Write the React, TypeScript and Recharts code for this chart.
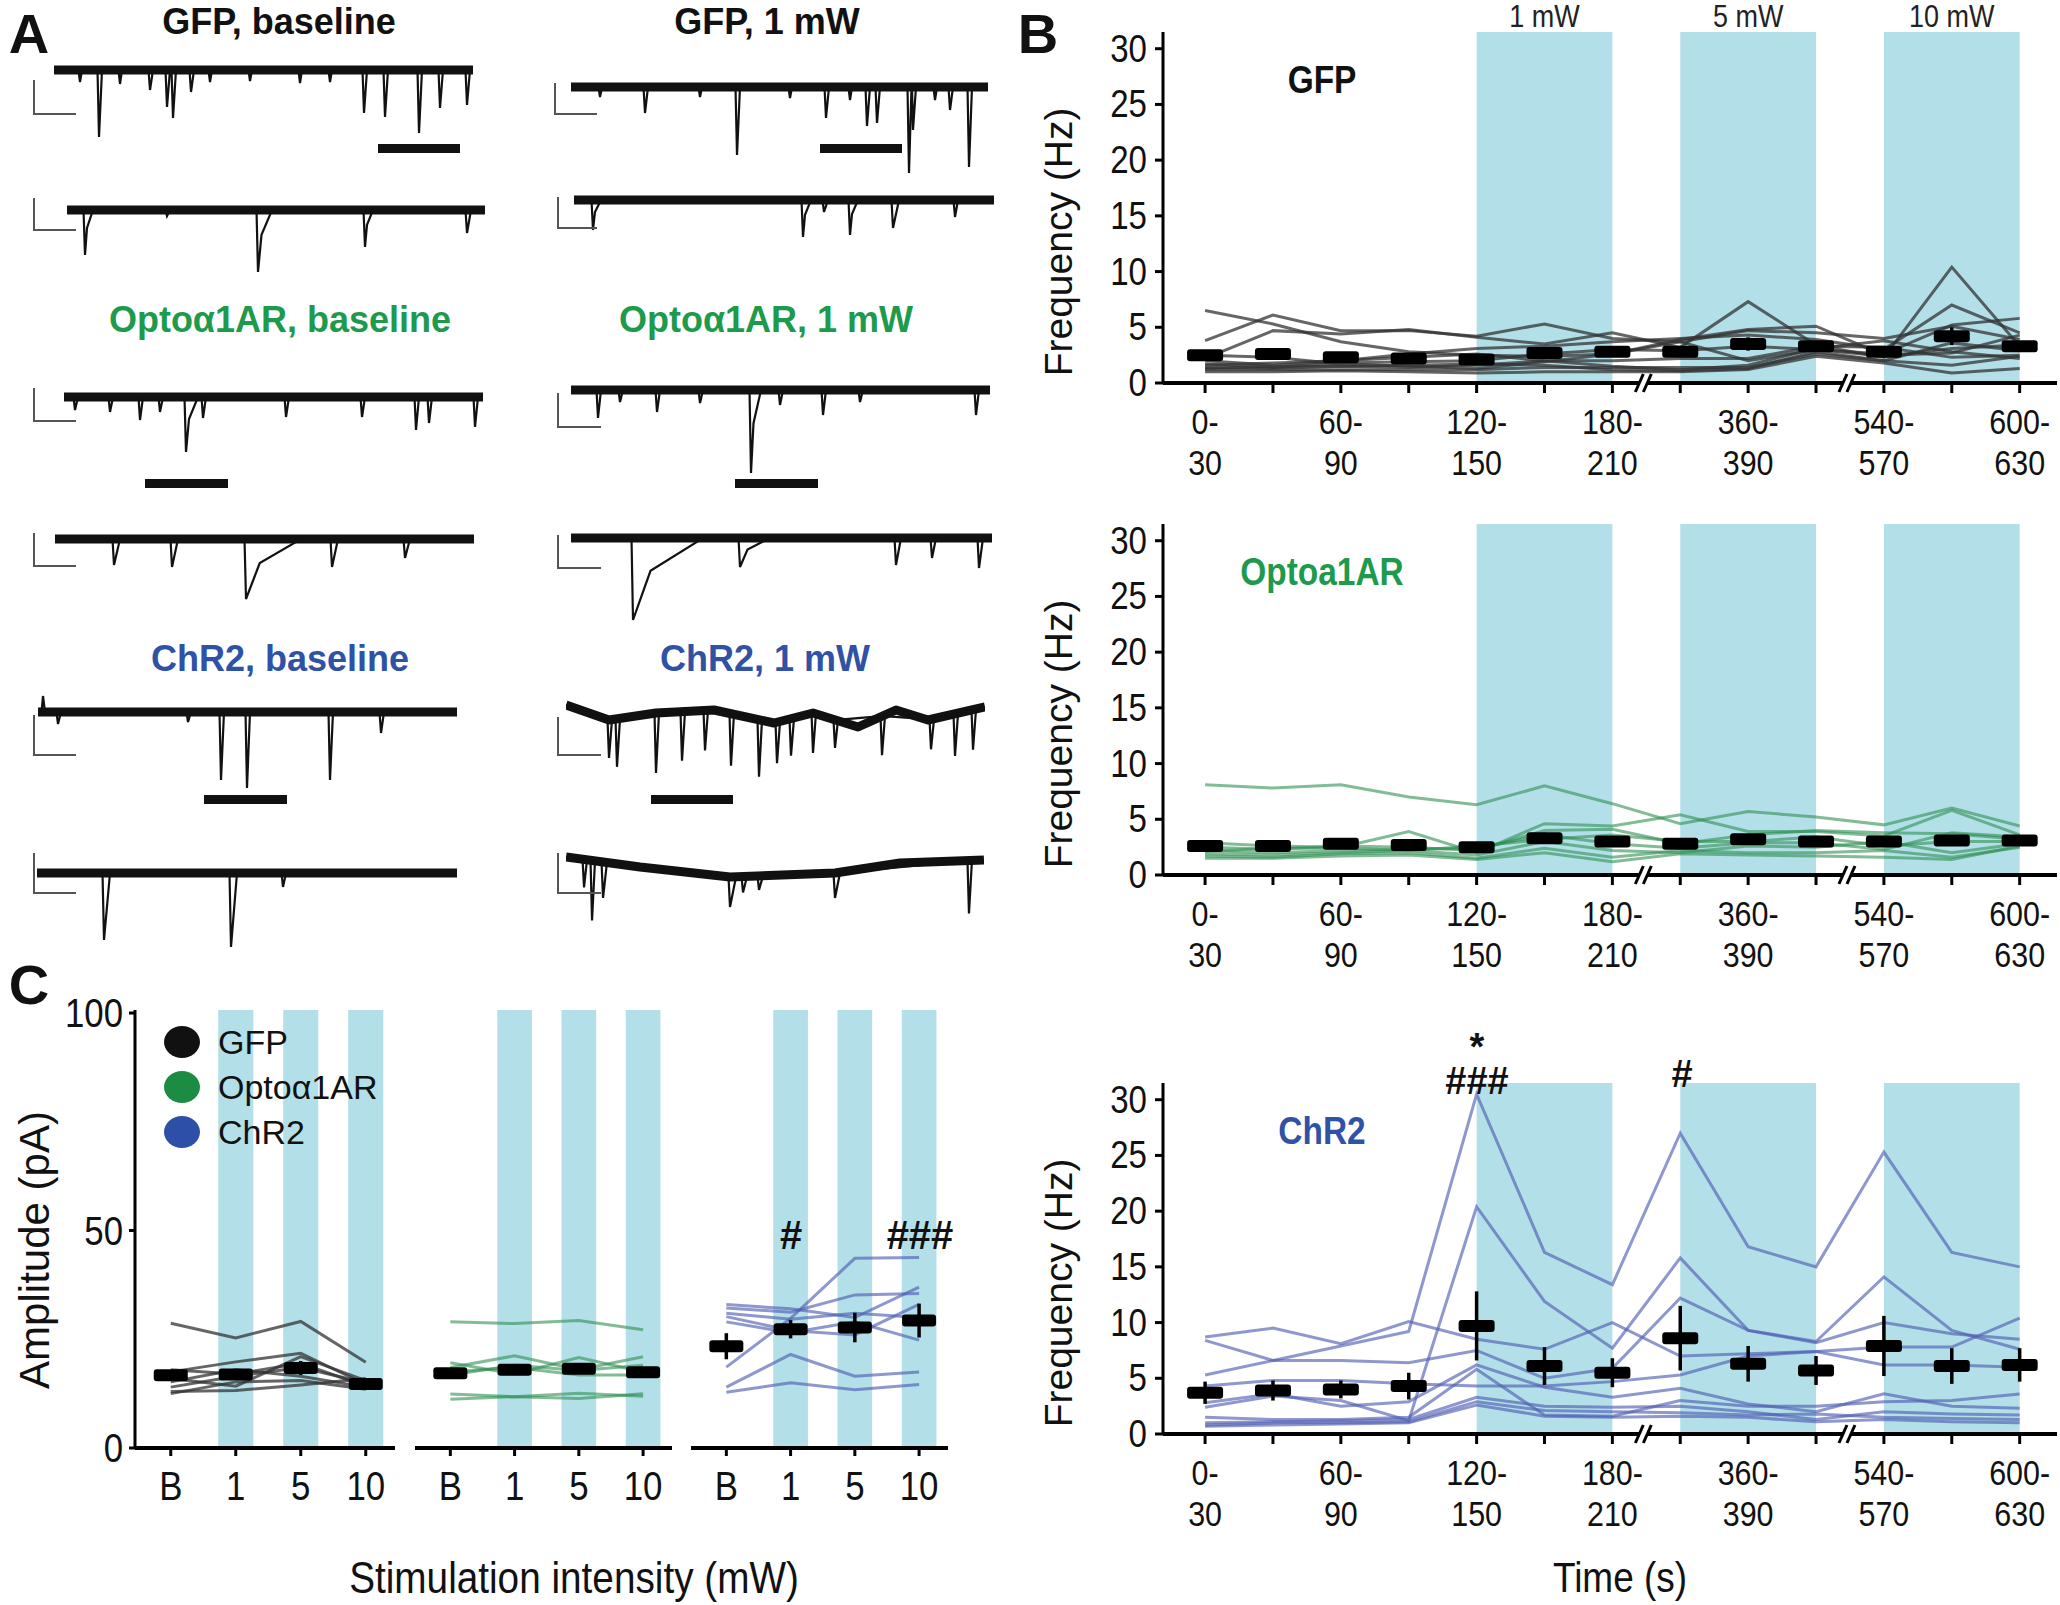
import React from 'react';
import {
  LineChart,
  Line,
  XAxis,
  YAxis,
  ReferenceArea,
  ReferenceDot,
  ErrorBar,
} from 'recharts';

// ---------- panel B: sEPSC frequency per 30 s bin ----------
const timeBins = [
  '0-30', '30-60', '60-90', '90-120', '120-150', '150-180', '180-210',
  '330-360', '360-390', '390-420', '540-570', '570-600', '600-630',
];
const labelledBins = [0, 2, 4, 6, 8, 10, 12];
const freqTicks = [0, 5, 10, 15, 20, 25, 30];
const axisBreaks = [6.5, 9.5];
const lightBlocks = [
  { from: 4, to: 6, power: '1 mW' },
  { from: 7, to: 9, power: '5 mW' },
  { from: 10, to: 12, power: '10 mW' },
];

const gfpFreqCells = [
  [6.5, 5.3, 3.7, 2.8, 2.5, 2.4, 2.6, 3.9, 4.8, 5.1, 2.5, 2.7, 4.3],
  [3.8, 6.1, 4.7, 4.7, 4.2, 5.3, 4.0, 3.7, 4.7, 4.5, 4.0, 5.1, 3.9],
  [2.2, 4.7, 4.4, 4.8, 4.1, 3.5, 4.5, 3.2, 7.3, 3.4, 2.3, 10.4, 3.3],
  [2.0, 1.6, 2.0, 2.6, 3.1, 3.3, 3.7, 4.0, 4.3, 3.9, 3.0, 7.0, 4.5],
  [1.7, 1.4, 1.8, 1.9, 2.0, 2.6, 3.0, 2.9, 3.3, 3.0, 2.6, 5.2, 5.8],
  [1.4, 1.3, 1.5, 1.4, 1.6, 2.0, 2.0, 2.2, 2.2, 3.3, 3.2, 2.3, 2.5],
  [1.2, 1.2, 1.2, 1.2, 1.2, 1.4, 1.4, 1.4, 1.4, 2.6, 2.0, 1.6, 2.4],
  [1.0, 1.0, 1.1, 1.0, 0.9, 1.0, 1.0, 1.0, 1.2, 2.4, 1.8, 0.9, 1.3],
  [2.5, 2.3, 1.7, 1.5, 1.3, 1.9, 2.6, 3.7, 2.0, 3.0, 2.4, 3.1, 3.4],
  [1.6, 1.8, 2.0, 2.3, 2.6, 2.0, 1.5, 1.2, 1.6, 3.1, 3.8, 2.8, 2.2],
  [1.3, 1.5, 1.5, 1.6, 1.7, 1.6, 1.2, 1.1, 1.3, 2.8, 2.0, 3.6, 2.9],
];
const gfpFreqMean = [2.5, 2.6, 2.3, 2.2, 2.1, 2.7, 2.8, 2.8, 3.5, 3.3, 2.8, 4.2, 3.3];
const gfpFreqSem = [0.4, 0.5, 0.3, 0.3, 0.3, 0.3, 0.3, 0.3, 0.6, 0.3, 0.3, 0.8, 0.3];

const optoFreqCells = [
  [8.1, 7.8, 8.1, 7.0, 6.3, 8.0, 6.4, 4.6, 5.7, 5.2, 4.5, 6.0, 4.4],
  [2.9, 2.6, 2.5, 3.9, 2.0, 4.6, 4.4, 5.4, 3.9, 3.9, 3.5, 5.8, 3.6],
  [2.5, 2.3, 2.6, 2.5, 2.2, 4.0, 4.1, 2.8, 3.6, 4.0, 3.8, 3.7, 3.2],
  [2.2, 2.0, 2.2, 2.3, 2.4, 3.6, 2.8, 2.4, 2.9, 2.9, 2.3, 3.8, 3.4],
  [1.9, 1.8, 2.0, 2.2, 1.8, 3.0, 2.2, 2.0, 2.6, 2.5, 3.0, 2.0, 2.8],
  [1.7, 1.6, 1.9, 2.0, 1.5, 2.4, 1.6, 2.2, 2.0, 2.0, 2.2, 1.6, 2.5],
  [1.5, 1.5, 1.7, 1.8, 1.4, 2.0, 1.2, 1.9, 1.8, 1.7, 1.6, 1.4, 2.6],
  [2.1, 2.4, 2.4, 2.2, 2.6, 3.2, 3.6, 3.0, 3.0, 3.4, 2.6, 3.0, 3.0],
];
const optoFreqMean = [2.6, 2.6, 2.8, 2.7, 2.5, 3.3, 3.0, 2.8, 3.2, 3.0, 3.0, 3.1, 3.1];
const optoFreqSem = [0.4, 0.4, 0.4, 0.3, 0.3, 0.5, 0.4, 0.3, 0.3, 0.3, 0.3, 0.4, 0.3];

const chr2FreqCells = [
  [5.3, 6.6, 7.9, 9.2, 30.5, 16.3, 13.4, 27.0, 16.8, 15.0, 25.3, 16.3, 15.0],
  [2.4, 3.4, 3.0, 1.2, 20.4, 11.9, 7.7, 15.8, 9.3, 8.3, 14.1, 9.3, 7.6],
  [8.7, 9.5, 8.1, 10.1, 8.5, 7.6, 10.0, 7.0, 7.2, 7.4, 7.8, 7.8, 10.4],
  [8.4, 6.6, 6.6, 6.4, 7.5, 5.0, 5.9, 12.2, 9.3, 8.2, 10.0, 9.0, 8.5],
  [4.3, 4.8, 4.8, 4.5, 4.3, 4.3, 4.7, 5.3, 7.0, 7.4, 6.2, 6.2, 6.0],
  [2.8, 3.6, 2.5, 2.9, 6.2, 4.2, 3.3, 4.1, 2.7, 2.0, 3.6, 2.5, 2.3],
  [1.5, 1.3, 1.3, 1.5, 5.8, 1.7, 1.6, 3.0, 2.5, 2.5, 2.9, 3.0, 3.6],
  [1.0, 1.1, 1.2, 1.3, 3.3, 2.5, 2.4, 2.5, 2.0, 1.3, 2.0, 1.8, 1.7],
  [0.8, 1.0, 1.0, 1.1, 2.9, 2.1, 2.0, 1.9, 1.7, 1.8, 1.5, 1.4, 1.3],
  [0.7, 0.8, 0.9, 1.0, 2.6, 1.6, 1.5, 1.6, 1.5, 1.1, 1.3, 1.1, 1.0],
];
const chr2FreqMean = [3.7, 3.9, 4.0, 4.3, 9.7, 6.1, 5.5, 8.6, 6.3, 5.7, 7.9, 6.1, 6.2];
const chr2FreqSem = [1.0, 0.9, 0.8, 1.2, 3.1, 1.7, 1.3, 2.9, 1.6, 1.3, 2.7, 1.6, 1.5];

// ---------- panel C: sEPSC amplitude ----------
const intensities = ['B', '1', '5', '10'];
const ampTicks = [0, 50, 100];
const gfpAmpCells = [
  [28.7, 25.3, 29.1, 19.7],
  [17.5, 19.8, 21.8, 14.6],
  [16.0, 14.2, 21.0, 15.5],
  [15.2, 18.0, 16.5, 14.0],
  [14.0, 16.5, 18.5, 15.0],
  [13.0, 13.2, 14.5, 16.0],
  [12.5, 15.2, 15.5, 13.5],
  [18.0, 17.0, 19.5, 14.2],
];
const gfpAmpMean = [16.7, 16.9, 18.4, 14.7];
const gfpAmpSem = [1.0, 1.2, 1.6, 0.8];
const optoAmpCells = [
  [29.0, 28.6, 29.3, 27.2],
  [18.5, 21.2, 18.0, 21.0],
  [19.6, 17.0, 20.8, 17.5],
  [16.8, 19.0, 17.8, 19.0],
  [17.5, 18.5, 16.8, 16.8],
  [12.4, 11.8, 12.6, 11.9],
  [11.2, 11.8, 11.4, 12.5],
];
const optoAmpMean = [17.2, 18.0, 18.2, 17.4];
const optoAmpSem = [1.2, 1.0, 1.2, 1.1];
const chr2AmpCells = [
  [18.6, 29.8, 43.6, 43.8],
  [33.0, 32.0, 30.0, 37.0],
  [32.2, 31.2, 35.2, 35.5],
  [31.0, 29.6, 31.0, 30.0],
  [30.2, 27.0, 26.0, 33.0],
  [14.0, 21.5, 16.5, 17.5],
  [12.8, 15.0, 13.4, 14.6],
  [29.0, 26.5, 29.0, 24.8],
];
const chr2AmpMean = [23.4, 27.3, 27.7, 29.3];
const chr2AmpSem = [3.0, 2.1, 3.4, 3.9];

// ---------- panel A: example traces, events as [time, depth, decay] ----------
const gfpBaseTop = [[26, 12, 2], [45, 67, 3], [66, 14, 2], [96, 20, 3], [113, 37, 3], [119, 48, 3], [137, 22, 3], [156, 12, 2], [196, 11, 2], [246, 13, 2], [276, 12, 2], [310, 43, 3], [331, 47, 3], [365, 63, 3], [386, 38, 3], [413, 35, 3]];
const gfpBaseZoom = [[18, 45, 8], [100, 6, 3], [191, 62, 14], [298, 37, 8], [400, 23, 4]];
const gfpLightTop = [[29, 10, 2], [74, 26, 3], [129, 10, 2], [166, 68, 3], [219, 11, 2], [255, 31, 3], [279, 13, 2], [296, 39, 3], [306, 36, 3], [338, 86, 3], [342, 43, 3], [364, 13, 2], [379, 23, 3], [398, 80, 3]];
const gfpLightZoom = [[19, 30, 8], [229, 37, 8], [250, 12, 4], [276, 35, 8], [319, 28, 6], [381, 17, 3]];
const optoBaseTop = [[11, 13, 3], [46, 15, 3], [76, 23, 3], [96, 15, 3], [122, 55, 12], [139, 21, 3], [222, 20, 3], [298, 20, 3], [352, 33, 3], [365, 26, 3], [411, 30, 3]];
const optoBaseZoom = [[59, 26, 6], [117, 28, 6], [191, 60, 55], [277, 28, 6], [350, 19, 5]];
const optoLightTop = [[27, 28, 3], [49, 12, 3], [86, 22, 3], [129, 13, 3], [180, 83, 10], [209, 15, 3], [252, 25, 3], [289, 12, 3], [405, 25, 3]];
const optoLightZoom = [[62, 82, 70], [169, 29, 30], [325, 27, 5], [361, 20, 4], [408, 30, 4]];
const chr2BaseTop = [[5, -16, 2], [20, 12, 3], [150, 10, 3], [183, 68, 3], [209, 76, 3], [292, 68, 3], [343, 21, 3]];
const chr2BaseZoom = [[67, 67, 6], [194, 74, 6], [246, 14, 3]];
const chr2LightTop = [[43, 38, 3], [51, 48, 3], [90, 60, 3], [116, 49, 3], [139, 40, 3], [165, 52, 3], [193, 57, 3], [211, 41, 3], [225, 37, 3], [247, 40, 3], [269, 28, 3], [316, 39, 3], [365, 30, 3], [389, 42, 3], [407, 40, 3]];
const chr2LightTopDrift = [[0, -5], [43, 10], [90, 3], [148, 0], [208, 13], [247, 3], [292, 17], [330, 0], [362, 10], [419, -3]];
const chr2LightZoom = [[18, 28, 3], [26, 60, 3], [37, 36, 4], [164, 30, 6], [177, 16, 4], [193, 14, 4], [269, 25, 5], [403, 53, 3]];
const chr2LightZoomDrift = [[0, -3], [74, 7], [164, 17], [269, 13], [334, 3], [418, 0]];

const GREEN = '#1e9a4d';
const BLUE = '#2f52a6';
const SHADE = '#b2dfe8';
const FONT = "'Liberation Sans', Arial, sans-serif";

// layout of the twelve traces: page position of start, end and baseline
const traceLayout = [
  { events: gfpBaseTop, x0: 54, x1: 473, yb: 70, bar: [34, 80, 113, 75] },
  { events: gfpBaseZoom, x0: 67, x1: 485, yb: 210, bar: [34, 198, 229, 75] },
  { events: gfpLightTop, x0: 571, x1: 988, yb: 87, bar: [555, 83, 113, 596] },
  { events: gfpLightZoom, x0: 574, x1: 994, yb: 200, bar: [558, 197, 227, 596] },
  { events: optoBaseTop, x0: 64, x1: 483, yb: 397, bar: [34, 388, 420, 75] },
  { events: optoBaseZoom, x0: 55, x1: 474, yb: 539, bar: [34, 533, 565, 75] },
  { events: optoLightTop, x0: 571, x1: 990, yb: 390, bar: [558, 393, 426, 600] },
  { events: optoLightZoom, x0: 571, x1: 992, yb: 538, bar: [558, 535, 567, 600] },
  { events: chr2BaseTop, x0: 38, x1: 457, yb: 712, bar: [34, 715, 754, 75] },
  { events: chr2BaseZoom, x0: 37, x1: 457, yb: 873, bar: [34, 853, 892, 75] },
  { events: chr2LightTop, drift: chr2LightTopDrift, x0: 566, x1: 985, yb: 710, bar: [558, 717, 754, 600] },
  { events: chr2LightZoom, drift: chr2LightZoomDrift, x0: 566, x1: 984, yb: 860, bar: [558, 853, 892, 600] },
];
const stimBars = [
  [378, 460, 148], [820, 902, 148],
  [145, 228, 483], [735, 818, 483],
  [204, 287, 799], [651, 733, 799],
];

function Trace({ spec }: any) {
  const len = spec.x1 - spec.x0;
  const drift = spec.drift ?? [[0, 0], [len, 0]];
  const baseAt = (t: number) => {
    for (let k = 1; k < drift.length; k++) {
      const [ta, da] = drift[k - 1];
      const [tb, db] = drift[k];
      if (t <= tb) return -(da + ((db - da) * (t - ta)) / (tb - ta));
    }
    return -drift[drift.length - 1][1];
  };
  const base = drift.map(([t, d]: number[]) => ({ t, v: -d }));
  const pts = [{ t: 0, v: baseAt(0) }];
  spec.events.forEach(([t, depth, decay]: number[]) => {
    const b = baseAt(t);
    pts.push({ t: t - 1.5, v: b }, { t, v: b - depth });
    if (decay > 6) pts.push({ t: t + decay * 0.25, v: b - depth * 0.4 });
    pts.push({ t: t + decay, v: b });
  });
  pts.push({ t: len, v: baseAt(len) });
  pts.sort((a, b) => a.t - b.t);
  const vals = pts.map((p) => p.v).concat(base.map((p: any) => p.v));
  const hi = Math.max(...vals) + 8;
  const lo = Math.min(...vals) - 4;
  const [bx, by0, by1, bx2] = spec.bar;
  return (
    <>
      <div style={{ position: 'absolute', left: spec.x0, top: spec.yb - hi }}>
        <LineChart width={len} height={hi - lo} margin={{ top: 0, right: 0, bottom: 0, left: 0 }}>
          <XAxis dataKey='t' type='number' domain={[0, len]} hide />
          <YAxis type='number' domain={[lo, hi]} hide />
          <Line data={base} dataKey='v' stroke='#111' strokeWidth={9} strokeLinejoin='round' dot={false} isAnimationActive={false} type='linear' />
          <Line data={pts} dataKey='v' stroke='#111' strokeWidth={2.2} dot={false} isAnimationActive={false} type='linear' />
        </LineChart>
      </div>
      <div style={{ position: 'absolute', left: bx - 1, top: by0, width: bx2 - bx, height: by1 - by0, borderLeft: '2px solid #555', borderBottom: '2px solid #555' }} />
    </>
  );
}

// condensed svg text (the figure uses a narrow sans)
const Cond = ({ x, y, anchor = 'middle', size = 40, fill = '#111', children }: any) => (
  <text transform={`translate(${x},${y}) scale(0.87,1)`} textAnchor={anchor} fontSize={size} fill={fill} fontFamily={FONT}>
    {children}
  </text>
);

const renderBinTick = (props: any) => {
  const { x, y, payload } = props;
  if (!labelledBins.includes(payload.value)) return <g />;
  const [a, b] = timeBins[payload.value].split('-');
  return (
    <g>
      <Cond x={x} y={y + 39} size={35}>{a}-</Cond>
      <Cond x={x} y={y + 80} size={35}>{b}</Cond>
    </g>
  );
};

const renderFreqTick = (props: any) => (
  <Cond x={props.x} y={props.y + 13} anchor='end' size={38}>{props.payload.value}</Cond>
);

const renderBreak = (p: any) => (
  <g>
    <polygon points={`${p.cx - 11},${p.cy + 9} ${p.cx - 3},${p.cy - 9} ${p.cx + 5},${p.cy - 9} ${p.cx - 3},${p.cy + 9}`} fill='#fff' />
    <line x1={p.cx - 11} y1={p.cy + 9} x2={p.cx - 3} y2={p.cy - 9} stroke='#000' strokeWidth={3} />
    <line x1={p.cx - 3} y1={p.cy + 9} x2={p.cx + 5} y2={p.cy - 9} stroke='#000' strokeWidth={3} />
  </g>
);

const meanDot = (w: number, h: number) => (p: any) => (
  <rect key={`m-${p.index}`} x={p.cx - w / 2} y={p.cy - h / 2} width={w} height={h} rx={3} fill='#000' />
);

function FreqPanel({ plotTop, cells, mean, sem, color, opacity, name, nameColor, showPower }: any) {
  const rows = timeBins.map((_, i) => {
    const row: any = { i, mean: mean[i], sem: sem[i] };
    cells.forEach((c: number[], k: number) => { row['c' + k] = c[i]; });
    return row;
  });
  const mTop = 32;
  const plotH = 381;
  return (
    <>
      <div style={{ position: 'absolute', left: 1063, top: plotTop - mTop }}>
        <LineChart width={997} height={mTop + plotH + 100} data={rows} margin={{ top: mTop, right: 3, bottom: 100, left: 0 }}>
          {lightBlocks.map((b) => (
            <ReferenceArea
              key={b.power}
              x1={b.from}
              x2={b.to}
              y1={0}
              y2={31.5}
              fill={SHADE}
              fillOpacity={1}
              stroke='none'
              label={showPower ? (p: any) => (
                <Cond x={p.viewBox.x + p.viewBox.width / 2} y={p.viewBox.y - 5} size={31} fill='#222'>{b.power}</Cond>
              ) : undefined}
            />
          ))}
          <XAxis
            dataKey='i'
            type='number'
            domain={[-0.62, 12.55]}
            ticks={timeBins.map((_, i) => i)}
            interval={0}
            tickSize={10}
            tickMargin={2}
            axisLine={{ stroke: '#000', strokeWidth: 4 }}
            tickLine={{ stroke: '#000', strokeWidth: 3 }}
            tick={renderBinTick}
          />
          <YAxis
            type='number'
            domain={[0, 31.5]}
            ticks={freqTicks}
            width={100}
            tickSize={8}
            tickMargin={8}
            axisLine={{ stroke: '#000', strokeWidth: 3 }}
            tickLine={{ stroke: '#000', strokeWidth: 3 }}
            tick={renderFreqTick}
          />
          {cells.map((_: any, k: number) => (
            <Line key={k} dataKey={'c' + k} stroke={color} strokeOpacity={opacity} strokeWidth={3} dot={false} isAnimationActive={false} type='linear' />
          ))}
          <Line dataKey='mean' stroke='none' dot={meanDot(36, 12)} activeDot={false} isAnimationActive={false}>
            <ErrorBar dataKey='sem' width={0} strokeWidth={3.5} stroke='#000' direction='y' />
          </Line>
          {axisBreaks.map((x) => (
            <ReferenceDot key={x} x={x} y={0} r={0} shape={renderBreak} />
          ))}
        </LineChart>
      </div>
      <div style={{ position: 'absolute', left: 1322, top: plotTop + 48, transform: 'translate(-50%, -50%) scaleX(0.88)', lineHeight: 1, fontSize: 38, fontWeight: 'bold', color: nameColor }}>
        {name}
      </div>
      <div style={{ position: 'absolute', left: 1058, top: plotTop + 210, transform: 'translate(-50%, -50%) rotate(-90deg)', lineHeight: 1, fontSize: 39, whiteSpace: 'nowrap', color: '#111' }}>
        Frequency (Hz)
      </div>
    </>
  );
}

function AmpPanel({ plotLeft, plotWidth, cells, mean, sem, color, opacity, showY }: any) {
  const rows = intensities.map((_, i) => {
    const row: any = { i, mean: mean[i], sem: sem[i] };
    cells.forEach((c: number[], k: number) => { row['c' + k] = c[i]; });
    return row;
  });
  const yw = showY ? 80 : 0;
  return (
    <div style={{ position: 'absolute', left: plotLeft - yw, top: 980 }}>
      <LineChart width={yw + plotWidth} height={30 + 468 + 80} data={rows} margin={{ top: 30, right: 0, bottom: 80, left: 0 }}>
        {[1, 2, 3].map((k) => (
          <ReferenceArea key={k} x1={k - 0.27} x2={k + 0.27} y1={0} y2={100.7} fill={SHADE} fillOpacity={1} stroke='none' />
        ))}
        <XAxis
          dataKey='i'
          type='number'
          domain={[-0.55, 3.45]}
          ticks={[0, 1, 2, 3]}
          interval={0}
          tickSize={8}
          tickMargin={2}
          axisLine={{ stroke: '#000', strokeWidth: 4 }}
          tickLine={{ stroke: '#000', strokeWidth: 3 }}
          tick={(p: any) => <Cond x={p.x} y={p.y + 42} size={40}>{intensities[p.payload.value]}</Cond>}
        />
        <YAxis
          type='number'
          domain={[0, 100.7]}
          ticks={ampTicks}
          hide={!showY}
          width={yw}
          tickSize={6}
          tickMargin={6}
          axisLine={{ stroke: '#000', strokeWidth: 3 }}
          tickLine={{ stroke: '#000', strokeWidth: 3 }}
          tick={(p: any) => <Cond x={p.x} y={p.y + 14} anchor='end' size={40}>{p.payload.value}</Cond>}
        />
        {cells.map((_: any, k: number) => (
          <Line key={k} dataKey={'c' + k} stroke={color} strokeOpacity={opacity} strokeWidth={3} dot={false} isAnimationActive={false} type='linear' />
        ))}
        <Line dataKey='mean' stroke='none' dot={meanDot(34, 12)} activeDot={false} isAnimationActive={false}>
          <ErrorBar dataKey='sem' width={0} strokeWidth={3.5} stroke='#000' direction='y' />
        </Line>
      </LineChart>
    </div>
  );
}

const txt = (left: number, top: number, s: string, style: any = {}) => (
  <div style={{ position: 'absolute', left, top, transform: 'translate(-50%, -50%)', whiteSpace: 'nowrap', lineHeight: 1, ...style }}>{s}</div>
);

export default function App() {
  const title = { fontSize: 36, fontWeight: 'bold' };
  const narrow = (fs: number) => ({ fontSize: fs, transform: 'translate(-50%, -50%) scaleX(0.88)' });
  return (
    <div style={{ position: 'absolute', left: 0, top: 0, width: 2060, height: 1605, background: '#fff', overflow: 'hidden', fontFamily: FONT, color: '#111' }}>
      {/* panel A */}
      {txt(29, 34, 'A', { fontSize: 56, fontWeight: 'bold' })}
      {txt(279, 22, 'GFP, baseline', title)}
      {txt(767, 22, 'GFP, 1 mW', title)}
      {txt(280, 320, 'Optoα1AR, baseline', { ...title, color: GREEN })}
      {txt(766, 320, 'Optoα1AR, 1 mW', { ...title, color: GREEN })}
      {txt(280, 659, 'ChR2, baseline', { ...title, color: BLUE })}
      {txt(765, 659, 'ChR2, 1 mW', { ...title, color: BLUE })}
      {traceLayout.map((spec, k) => (
        <Trace key={k} spec={spec} />
      ))}
      {stimBars.map(([a, b, y], k) => (
        <div key={k} style={{ position: 'absolute', left: a, top: y - 4.5, width: b - a, height: 9, background: '#111' }} />
      ))}

      {/* panel B */}
      {txt(1038, 34, 'B', { fontSize: 56, fontWeight: 'bold' })}
      <FreqPanel plotTop={32} cells={gfpFreqCells} mean={gfpFreqMean} sem={gfpFreqSem} color='#333' opacity={0.75} name='GFP' nameColor='#111' showPower />
      <FreqPanel plotTop={524} cells={optoFreqCells} mean={optoFreqMean} sem={optoFreqSem} color='#2f8f52' opacity={0.6} name='Optoa1AR' nameColor={GREEN} />
      <FreqPanel plotTop={1083} cells={chr2FreqCells} mean={chr2FreqMean} sem={chr2FreqSem} color='#5260b3' opacity={0.65} name='ChR2' nameColor={BLUE} />
      <div style={{ position: 'absolute', left: 1477, top: 1030, transform: 'translateX(-50%)', textAlign: 'center', fontWeight: 'bold', whiteSpace: 'pre', fontSize: 38, lineHeight: '34px' }}>
        {'*\n###'}
      </div>
      {txt(1682, 1074, '#', { fontSize: 38, fontWeight: 'bold' })}
      {txt(1620, 1578, 'Time (s)', narrow(42))}

      {/* panel C */}
      {txt(29, 985, 'C', { fontSize: 56, fontWeight: 'bold' })}
      <AmpPanel plotLeft={135} plotWidth={260} cells={gfpAmpCells} mean={gfpAmpMean} sem={gfpAmpSem} color='#333' opacity={0.75} showY />
      <AmpPanel plotLeft={415} plotWidth={257} cells={optoAmpCells} mean={optoAmpMean} sem={optoAmpSem} color='#2f8f52' opacity={0.6} />
      <AmpPanel plotLeft={691} plotWidth={257} cells={chr2AmpCells} mean={chr2AmpMean} sem={chr2AmpSem} color='#5260b3' opacity={0.65} />
      {[
        ['GFP', '#111', 1042],
        ['Optoα1AR', '#1c8c42', 1087],
        ['ChR2', '#2d4fa8', 1132],
      ].map(([label, c, y]: any) => (
        <React.Fragment key={label}>
          <div style={{ position: 'absolute', left: 182 - 18, top: y - 16, width: 36, height: 32, borderRadius: '50%', background: c }} />
          <div style={{ position: 'absolute', left: 218, top: y, transform: 'translateY(-50%)', lineHeight: 1, fontSize: 34 }}>{label}</div>
        </React.Fragment>
      ))}
      {txt(791, 1235, '#', { fontSize: 40, fontWeight: 'bold' })}
      {txt(920, 1235, '###', { fontSize: 40, fontWeight: 'bold' })}
      {txt(35, 1250, 'Amplitude (pA)', { fontSize: 42, transform: 'translate(-50%, -50%) rotate(-90deg)' })}
      {txt(574, 1578, 'Stimulation intensity (mW)', narrow(44))}
    </div>
  );
}
